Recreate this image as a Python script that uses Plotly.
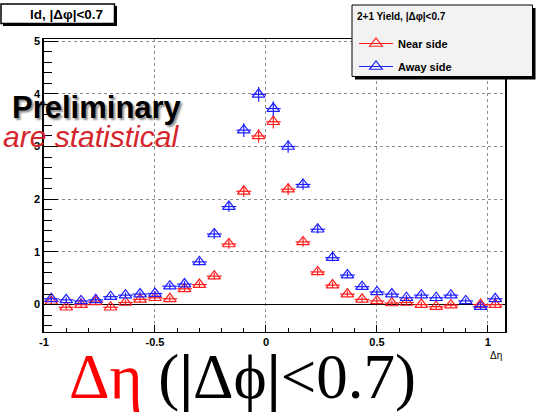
import plotly.graph_objects as go

# Delta-eta bin centres (bin width 1/15)
deta = [-0.967, -0.9, -0.833, -0.767, -0.7, -0.633, -0.567, -0.5, -0.433, -0.367,
        -0.3, -0.233, -0.167, -0.1, -0.033, 0.033, 0.1, 0.167, 0.233, 0.3,
        0.367, 0.433, 0.5, 0.567, 0.633, 0.7, 0.767, 0.833, 0.9, 0.967, 1.033]
bin_half_width = [0.0333] * len(deta)

# Near-side yield
near_yield = [0.06, -0.05, 0.00, 0.05, -0.05, 0.04, 0.10, 0.13, 0.11, 0.30,
              0.38, 0.54, 1.15, 2.15, 3.20, 3.47, 2.19, 1.19, 0.62, 0.37,
              0.20, 0.10, 0.07, 0.03, 0.04, 0.00, -0.04, -0.01, None, 0.00, 0.00]
near_err = [0.05, 0.05, 0.05, 0.05, 0.05, 0.05, 0.05, 0.05, 0.05, 0.06,
            0.06, 0.07, 0.09, 0.11, 0.13, 0.13, 0.11, 0.09, 0.07, 0.06,
            0.06, 0.05, 0.05, 0.05, 0.05, 0.05, 0.05, 0.05, 0.05, 0.05, 0.05]

# Away-side yield
away_yield = [0.11, 0.09, 0.07, 0.09, 0.15, 0.18, 0.20, 0.21, 0.35, 0.39,
              0.81, 1.34, 1.86, 3.31, 3.99, 3.72, 3.00, 2.28, 1.43, 0.89,
              0.56, 0.34, 0.24, 0.20, 0.13, 0.18, 0.13, 0.18, 0.07, -0.04, 0.11]
away_err = [0.05, 0.05, 0.05, 0.05, 0.05, 0.05, 0.05, 0.05, 0.06, 0.06,
            0.07, 0.09, 0.10, 0.13, 0.14, 0.14, 0.12, 0.10, 0.08, 0.07,
            0.06, 0.06, 0.05, 0.05, 0.05, 0.05, 0.05, 0.05, 0.05, 0.05, 0.05]

x_tickvals = [-1, -0.5, 0, 0.5, 1]
x_ticktext = ["-1", "-0.5", "0", "0.5", "1"]
y_tickvals = [0, 1, 2, 3, 4, 5]
y_ticktext = ["0", "1", "2", "3", "4", "5"]

RED = "rgb(255,30,30)"
BLUE = "rgb(30,30,255)"

W, H = 536, 412
ML, MR, MT, MB = 44, 31, 39, 80
PW, PH = W - ML - MR, H - MT - MB


def px(x):
    return (x - ML) / PW


def py(y):
    return (H - MB - y) / PH


fig = go.Figure()

for name, group, yy, ee, col in [("Near side", "near", near_yield, near_err, RED),
                                 ("Away side", "away", away_yield, away_err, BLUE)]:
    fig.add_trace(go.Scatter(
        x=deta, y=yy, mode="markers", showlegend=False, legendgroup=group,
        marker=dict(symbol="triangle-up-open", size=11, color=col,
                    line=dict(width=1.2, color=col)),
        error_x=dict(type="data", array=bin_half_width, color=col,
                     thickness=1.2, width=0),
        error_y=dict(type="data", array=ee, color=col, thickness=1.2, width=0),
    ))
    # legend entry: line + marker
    fig.add_trace(go.Scatter(
        x=[None], y=[None], mode="lines+markers", name=name, legendgroup=group,
        line=dict(color=col, width=1.2),
        marker=dict(symbol="triangle-up-open", size=11, color=col,
                    line=dict(width=1.2, color=col)),
    ))

axis_font = dict(family="Liberation Sans, Arial", size=11, color="black",
                 weight="bold")

fig.update_xaxes(
    range=[-1, 1.077], tickmode="array", tickvals=x_tickvals,
    ticktext=x_ticktext, ticks="inside", ticklen=7, tickcolor="black",
    tickfont=axis_font, showline=True, linecolor="black", linewidth=1,
    mirror=True, showgrid=True, gridcolor="#8c8c8c", griddash="dot",
    gridwidth=1, zeroline=False,
    minor=dict(tickmode="linear", tick0=0, dtick=0.1, ticks="inside",
               ticklen=4, tickcolor="black", showgrid=False),
)
fig.update_yaxes(
    range=[-0.52, 5.04], tickmode="array", tickvals=y_tickvals,
    ticktext=y_ticktext, ticks="inside", ticklen=14, tickcolor="black",
    tickfont=axis_font, showline=True, linecolor="black", linewidth=1.5,
    mirror=True, showgrid=True, gridcolor="#8c8c8c", griddash="dot",
    gridwidth=1, zeroline=True, zerolinecolor="black", zerolinewidth=1,
    minor=dict(tickmode="linear", tick0=0, dtick=0.2, ticks="inside",
               ticklen=8, tickcolor="black", showgrid=False),
)

shapes = [
    # title box (with drop shadow)
    dict(type="rect", xref="paper", yref="paper", x0=px(3), x1=px(117),
         y0=py(26), y1=py(6), fillcolor="black", line=dict(width=0)),
    dict(type="rect", xref="paper", yref="paper", x0=px(1), x1=px(114.5),
         y0=py(23.5), y1=py(4), fillcolor="white",
         line=dict(color="black", width=1.5)),
    # legend box (with drop shadow)
    dict(type="rect", xref="paper", yref="paper", x0=px(355), x1=px(535.5),
         y0=py(79.5), y1=py(8), fillcolor="black", line=dict(width=0)),
    dict(type="rect", xref="paper", yref="paper", x0=px(352), x1=px(532.5),
         y0=py(76.5), y1=py(5), fillcolor="#f2f2f2",
         line=dict(color="black", width=1)),
]

annotations = [
    dict(text="ld, |Δφ|&lt;0.7", xref="paper", yref="paper", x=px(105),
         y=py(14.5), xanchor="right", yanchor="middle", showarrow=False,
         font=dict(family="Liberation Sans, Arial", size=13.5, color="black",
                   weight="bold")),
    # legend header
    dict(text="2+1 Yield, |Δφ|&lt;0.7", xref="paper", yref="paper",
         x=px(355), y=py(17), xanchor="left", yanchor="middle",
         showarrow=False,
         font=dict(family="Liberation Sans, Arial", size=10, color="black",
                   weight="bold")),
    dict(text="Preliminary", xref="paper", yref="paper", x=px(184),
         y=py(107), xanchor="right", yanchor="middle", showarrow=False,
         font=dict(family="Liberation Sans, Arial", size=31, color="black",
                   weight="bold", shadow="2px 2px 2px rgba(0,0,0,0.45)")),
    dict(text="are statistical", xref="paper", yref="paper", x=px(181),
         y=py(136), xanchor="right", yanchor="middle", showarrow=False,
         font=dict(family="Liberation Sans, Arial", size=30,
                   color="rgb(212,38,44)", style="italic")),
    dict(text="Δη", xref="paper", yref="paper", x=px(504), y=py(356),
         xanchor="right", yanchor="middle", showarrow=False,
         font=dict(family="Liberation Sans, Arial", size=10, color="black")),
    dict(text="<span style='color:rgb(255,0,0)'>Δη</span> (<b>|</b>Δϕ<b>|</b>&lt;0.7)",
         xref="paper", yref="paper", x=px(242), y=py(377), xanchor="center",
         yanchor="middle", showarrow=False,
         font=dict(family="Liberation Serif, Times New Roman", size=63,
                   color="black")),
]

fig.update_layout(
    width=W, height=H,
    margin=dict(l=ML, r=MR, t=MT, b=MB, autoexpand=False),
    plot_bgcolor="white", paper_bgcolor="white",
    shapes=shapes, annotations=annotations,
    showlegend=True,
    legend=dict(
        x=px(354), y=py(29), xanchor="left", yanchor="top",
        bgcolor="rgba(0,0,0,0)", borderwidth=0,
        font=dict(family="Liberation Sans, Arial", size=11, color="black",
                  weight="bold"),
        tracegroupgap=4, itemwidth=34,
    ),
)

fig.write_html("out.html")
